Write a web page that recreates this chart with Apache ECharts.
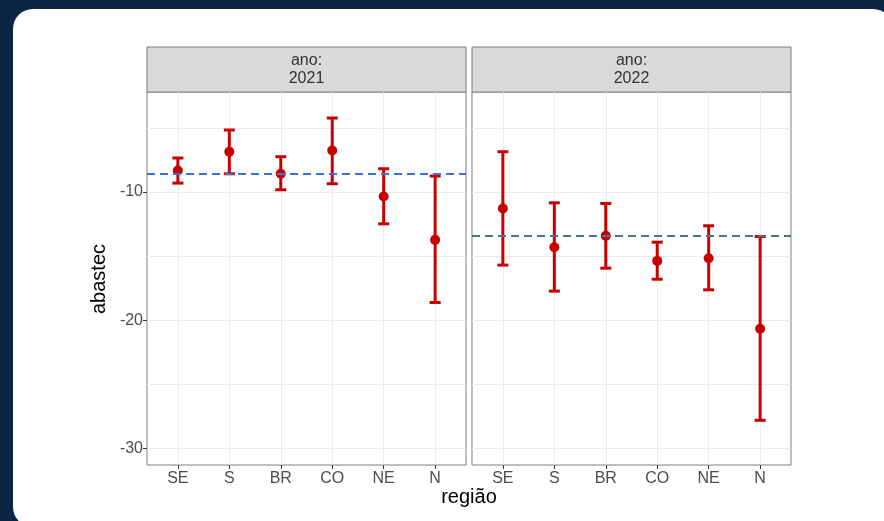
<!DOCTYPE html>
<html>
<head>
<meta charset="utf-8">
<script src="https://cdn.jsdelivr.net/npm/echarts@6/dist/echarts.min.js"></script>
<style>
html,body{margin:0;padding:0;background:#0b2547;}
#chart{width:884px;height:521px;}
</style>
</head>
<body>
<div id="chart"></div>
<script>
// ---- data ----
var categories = ['SE', 'S', 'BR', 'CO', 'NE', 'N'];
var years = ['2021', '2022'];
var mean2021  = [-8.31, -6.85, -8.57, -6.75, -10.34, -13.73];
var upper2021 = [-7.34, -5.16, -7.24, -4.22, -8.18, -8.75];
var lower2021 = [-9.30, -8.57, -9.82, -9.35, -12.48, -18.62];
var mean2022  = [-11.28, -14.30, -13.41, -15.37, -15.16, -20.66];
var upper2022 = [-6.85, -10.84, -10.89, -13.91, -12.63, -13.47];
var lower2022 = [-15.70, -17.73, -15.94, -16.80, -17.63, -27.81];
var ref2021 = -8.6;
var ref2022 = -13.44;
var yTickLabels = [-30, -20, -10];
var yGridValues = [-30, -25, -20, -15, -10, -5];
var yMin = -31.3, yMax = -2.19;

// ---- styles ----
var RED = '#c80000';
var FONT = '"Liberation Sans", Arial, sans-serif';
var GRIDC = '#ebebeb';
var BORDER = '#7f7f7f';
var panelTop = 92, panelH = 373, panelW = 319;
var panelLeft = [147, 472];
var refColors = ['#3a72d6', '#4a7196'];

var chart = echarts.init(document.getElementById('chart'));

var means = [mean2021, mean2022], uppers = [upper2021, upper2022], lowers = [lower2021, lower2022], refs = [ref2021, ref2022];
var catIdx = categories.map(function (c, i) { return i; });

var grids = [], xAxes = [], yAxes = [], series = [], graphics = [];

graphics.push({
  type: 'rect', z: -10, silent: true,
  shape: { x: 13, y: 9, width: 880, height: 518, r: 20 },
  style: { fill: '#ffffff' }
});

for (var p = 0; p < 2; p++) {
  grids.push({
    left: panelLeft[p], top: panelTop, width: panelW, height: panelH,
    show: true, borderColor: BORDER, borderWidth: 1, backgroundColor: 'transparent'
  });
  xAxes.push({
    type: 'value', gridIndex: p, min: -0.6, max: 5.6, position: 'bottom',
    axisLine: { show: false },
    axisTick: { show: true, customValues: catIdx, length: 4, lineStyle: { color: '#333333', width: 1 } },
    axisLabel: {
      customValues: catIdx, margin: 6, color: '#4d4d4d', fontSize: 16, fontFamily: FONT,
      formatter: function (v) { return categories[Math.round(v)]; }
    },
    splitLine: { show: true, lineStyle: { color: GRIDC, width: 1 } }
  });
  // grid-lines axis
  yAxes.push({
    type: 'value', gridIndex: p, min: yMin, max: yMax, position: 'left',
    axisLine: { show: false },
    axisTick: { show: false, customValues: yGridValues },
    axisLabel: { show: false },
    splitLine: { show: true, lineStyle: { color: GRIDC, width: 1 } }
  });
  // label axis (left panel only shows labels)
  yAxes.push({
    type: 'value', gridIndex: p, min: yMin, max: yMax, position: 'left', offset: 0,
    axisLine: { show: false },
    axisTick: { show: p === 0, customValues: yTickLabels, length: 4, lineStyle: { color: '#333333', width: 1 } },
    axisLabel: { show: p === 0, customValues: yTickLabels, margin: 4, color: '#4d4d4d', fontSize: 16, fontFamily: FONT },
    splitLine: { show: false }
  });

  (function (p) {
    var errData = categories.map(function (c, i) { return [i, lowers[p][i], uppers[p][i]]; });
    series.push({
      type: 'custom', xAxisIndex: p, yAxisIndex: 2 * p, z: 3,
      data: errData,
      renderItem: function (params, api) {
        var x = api.value(0), lo = api.value(1), hi = api.value(2);
        var a = api.coord([x, lo]), b = api.coord([x, hi]);
        var hw = 5.5;
        function st() { return { stroke: RED, lineWidth: 3 }; }
        return {
          type: 'group', children: [
            { type: 'line', shape: { x1: a[0], y1: a[1], x2: b[0], y2: b[1] }, style: st() },
            { type: 'line', shape: { x1: a[0] - hw, y1: a[1], x2: a[0] + hw, y2: a[1] }, style: st() },
            { type: 'line', shape: { x1: b[0] - hw, y1: b[1], x2: b[0] + hw, y2: b[1] }, style: st() }
          ]
        };
      }
    });
    series.push({
      type: 'scatter', xAxisIndex: p, yAxisIndex: 2 * p, z: 4,
      symbolSize: 10, itemStyle: { color: RED, opacity: 1 },
      data: categories.map(function (c, i) { return [i, means[p][i]]; }),
      markLine: {
        silent: true, symbol: 'none', z: 5,
        label: { show: false },
        lineStyle: { color: refColors[p], width: 2, type: [8, 5] },
        data: [{ yAxis: refs[p] }]
      }
    });
  })(p);

  // strip
  graphics.push({
    type: 'rect', silent: true,
    shape: { x: panelLeft[p], y: 47, width: panelW, height: 45 },
    style: { fill: '#d9d9d9', stroke: BORDER, lineWidth: 1 }
  });
  graphics.push({
    type: 'text', silent: true,
    x: panelLeft[p] + panelW / 2, y: 70,
    style: {
      text: 'ano:\n' + years[p], fill: '#333333', font: '16px ' + FONT,
      align: 'center', verticalAlign: 'middle', lineHeight: 18
    }
  });
}

graphics.push({
  type: 'text', silent: true, x: 469, y: 497,
  style: { text: 'região', fill: '#000000', font: '20px ' + FONT, align: 'center', verticalAlign: 'middle' }
});
graphics.push({
  type: 'text', silent: true, x: 99, y: 279, rotation: Math.PI / 2,
  style: { text: 'abastec', fill: '#000000', font: '20px ' + FONT, align: 'center', verticalAlign: 'middle' }
});

chart.setOption({
  backgroundColor: '#0b2547',
  animation: false,
  grid: grids,
  xAxis: xAxes,
  yAxis: yAxes,
  series: series,
  graphic: graphics
});
</script>
</body>
</html>
